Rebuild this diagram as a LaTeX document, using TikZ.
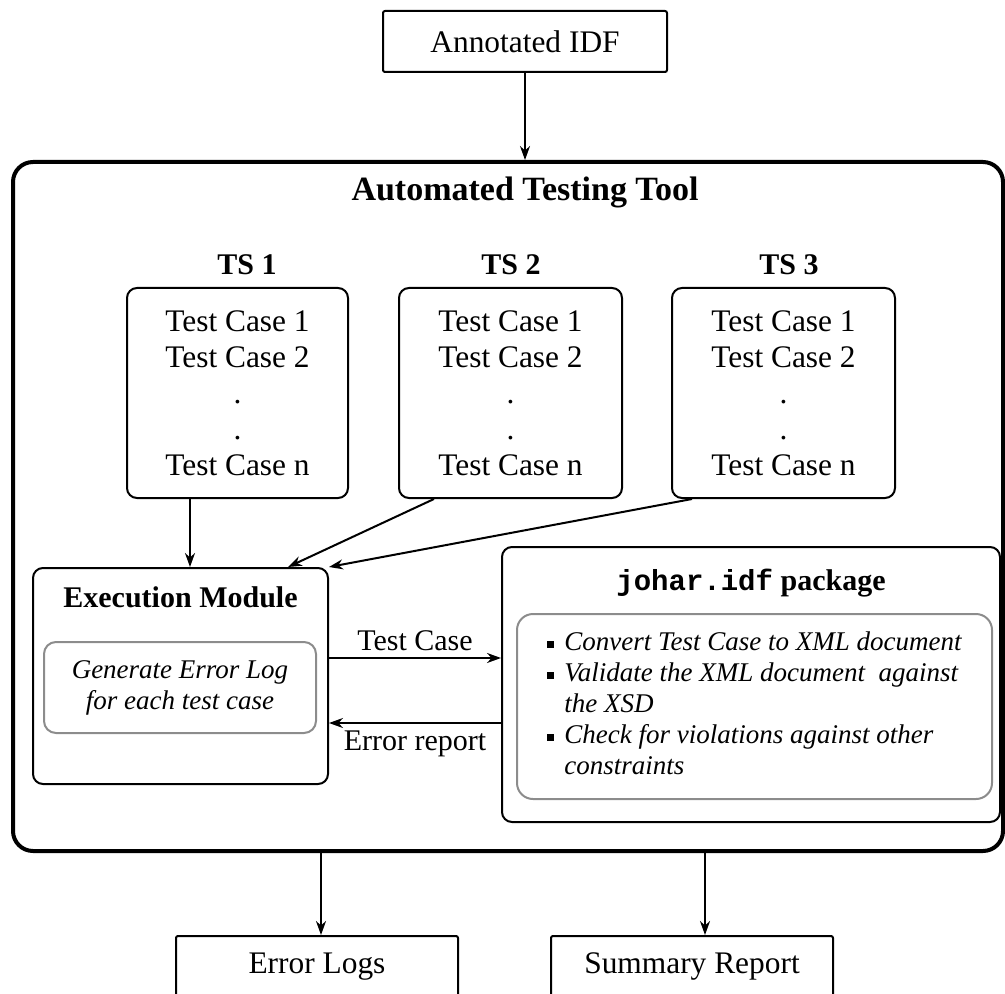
\documentclass[tikz,border=0pt]{standalone}
\usepackage{fontspec}
\setmainfont{Liberation Serif}
\setmonofont{Liberation Mono}
\usepackage{tikz}
\usetikzlibrary{arrows.meta,positioning}
\definecolor{boxgray}{HTML}{8C8C8C}
\newcommand{\sqbullet}{\raisebox{1.5pt}{\rule{3.5pt}{3.5pt}}}

\begin{document}
\begin{tikzpicture}[x=0.5pt,y=-0.5pt]
      \useasboundingbox (0,0) rectangle (1005,994);
      \node[draw, line width=2pt, rounded corners=10pt, minimum width=495pt, minimum height=344.5pt] (tool) at (508,506.5) {};

      \begin{scope}[every node/.style={font=\fontsize{15}{18}\selectfont\bfseries}]
          \node[font=\fontsize{17}{20}\selectfont\bfseries] (toolT) at (525,192) {Automated Testing Tool};
          \node (ts1) at (247,265) {TS 1};
          \node (ts2) at (511,265) {TS 2};
          \node (ts3) at (789,265) {TS 3};
          \node (emT) at (180.5,597) {Execution Module};
          \node (jpT) at (751,583) {{\fontsize{14.5}{18}\selectfont\ttfamily johar.idf} package};
      \end{scope}

      \begin{scope}[every node/.style={rectangle, draw, line width=1pt, rounded corners=5pt, align=center, font=\fontsize{15.7}{18}\selectfont}]
          \node[minimum width=142pt, minimum height=30.5pt, rounded corners=1pt] (IDF) at (525,41.5) {Annotated IDF};
          \node[minimum width=110.5pt, minimum height=105pt] (T1) at (237.5,393) {Test Case 1\\Test Case 2\\.\\.\\Test Case n};
          \node[minimum width=111.5pt, minimum height=105pt] (T2) at (510.5,393) {Test Case 1\\Test Case 2\\.\\.\\Test Case n};
          \node[minimum width=111.5pt, minimum height=105pt] (T3) at (783.5,393) {Test Case 1\\Test Case 2\\.\\.\\Test Case n};
          \node[minimum width=147.5pt, minimum height=108pt] (EM) at (180.5,676) {};
          \node[minimum width=249pt, minimum height=137.5pt] (JP) at (751,684.5) {};
          \node[minimum width=141pt, minimum height=30.5pt, rounded corners=1pt] (EL) at (317,966.5) {Error Logs};
          \node[minimum width=141pt, minimum height=30.5pt, rounded corners=1pt] (SR) at (692,966.5) {Summary Report};
      \end{scope}

      \begin{scope}[every node/.style={draw=boxgray, line width=1pt, align=center, font=\fontsize{13.5}{15.5}\selectfont\itshape}]
          \node[minimum width=136pt, minimum height=45.5pt, rounded corners=6pt] (EMi) at (180,687.5) {Generate Error Log\\for each test case};
          \node[minimum width=237.5pt, minimum height=92.5pt, rounded corners=8pt] (JPi) at (754.5,706.5) {%
            \begin{tabular}{@{}l@{\hspace{5pt}}l@{}}
              \sqbullet & Convert Test Case to XML document\\
              \sqbullet & Validate the XML document~ against\\
                        & the XSD\\
              \sqbullet & Check for violations against other\\
                        & constraints
            \end{tabular}};
      \end{scope}

      \begin{scope}[>={Stealth[black,length=7pt,width=5pt]},
                    every node/.style={font=\fontsize{15}{18}\selectfont},
                    every edge/.style={draw, line width=1pt}]
          \coordinate (t1out) at ([xshift=-23.75pt]T1.south);
          \coordinate (t2out) at ([xshift=-38.25pt]T2.south);
          \coordinate (t3out) at ([xshift=-45.75pt]T3.south);
          \coordinate (tcA) at ([yshift=9pt]EM.east);
          \coordinate (erB) at ([yshift=-23.5pt]EM.east);
          \coordinate (elin) at ([xshift=2pt]EL.north);
          \coordinate (srin) at ([xshift=6.5pt]SR.north);
          \path [->] (IDF.south) edge (IDF.south |- tool.north);
          \path [->] (t1out) edge (t1out |- EM.north);
          \path [->] (t2out) edge ([xshift=53.75pt]EM.north);
          \path [->] (t3out) edge (EM.north east);
          \path [->] (tcA) edge node[above] {Test Case} (tcA -| JP.west);
          \path [->] (erB -| JP.west) edge node[below] {Error report} (erB);
          \path [->] (elin |- tool.south) edge (elin);
          \path [->] (srin |- tool.south) edge (srin);
      \end{scope}
\end{tikzpicture}
\end{document}
